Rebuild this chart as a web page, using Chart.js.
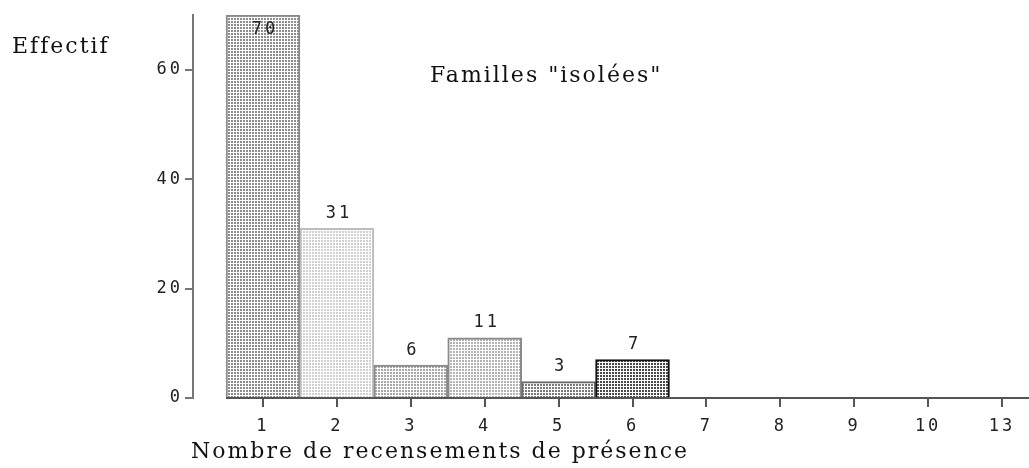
<!DOCTYPE html>
<html>
<head>
<meta charset="utf-8">
<script src="https://cdn.jsdelivr.net/npm/chart.js@4"></script>
<style>
  html, body { margin: 0; padding: 0; background: #fff; overflow: hidden; }
  #wrap { width: 1029px; height: 468px; }
</style>
</head>
<body>
<div id="wrap"><canvas id="c"></canvas></div>
<script>
// recensements de présence (1..10, 13) et effectifs
var categories = ['1', '2', '3', '4', '5', '6', '7', '8', '9', '10', '13'];
var effectifs = [70, 31, 6, 11, 3, 7, 0, 0, 0, 0, 0];
var yTicks = [0, 20, 40, 60];

var serif = '"DejaVu Serif", serif';
var mono = '"DejaVu Sans Mono", monospace';

// petit motif de points pour remplir les barres
function dots(color) {
    var c = document.createElement('canvas');
    c.width = 3; c.height = 3;
    var g = c.getContext('2d');
    g.fillStyle = '#fff';
    g.fillRect(0, 0, 3, 3);
    g.fillStyle = color;
    g.fillRect(0, 0, 2, 2);
    return g.createPattern(c, 'repeat');
}

var fills = [dots('#8e8e8e'), dots('#d2d2d2'), dots('#a8a8a8'), dots('#b4b4b4'), dots('#7a7a7a'), dots('#4a4a4a')];
var borders = ['#8a8a8a', '#bdbdbd', '#8a8a8a', '#8a8a8a', '#6a6a6a', '#111'];

var points = categories.map(function(c, i) { return { x: i + 1, y: effectifs[i] }; });

var textPlugin = {
    id: 'textes',
    beforeDraw: function(chart) {
        // chiffres des axes un peu espacés
        chart.ctx.letterSpacing = '3px';
    },
    afterDraw: function(chart) {
        var ctx = chart.ctx;
        var area = chart.chartArea;
        var x = chart.scales.x;
        var y0 = Math.round(area.bottom);
        ctx.save();
        ctx.letterSpacing = '0px';
        ctx.globalAlpha = 1;
        ctx.globalCompositeOperation = 'source-over';
        // axe horizontal et graduations au centre de chaque classe
        ctx.fillStyle = '#555';
        var left = Math.round(x.getPixelForValue(0.5));
        ctx.fillRect(left, y0 - 1, area.right - left, 2);
        for (var i = 0; i < categories.length; i++) {
            var px = Math.round(area.left + (i + 1 - x.min) / (x.max - x.min) * (area.right - area.left));
            ctx.fillRect(px - 1, y0 + 1, 2, 8);
        }

        // valeurs au-dessus des barres
        ctx.fillStyle = '#222';
        ctx.font = '17px ' + mono;
        ctx.textAlign = 'center';
        ctx.textBaseline = 'middle';
        ctx.letterSpacing = '3px';
        chart.getDatasetMeta(0).data.forEach(function(bar, i) {
            var v = effectifs[i];
            if (!v) return;
            var y = bar.y - 15;
            if (y < area.top + 6) y = bar.y + 15;
            ctx.fillText(String(v), bar.x + 2, y);
        });

        // titres
        ctx.font = '22px ' + serif;
        ctx.letterSpacing = '2px';
        ctx.textAlign = 'left';
        ctx.fillStyle = '#111';
        ctx.fillText('Effectif', 12, 47);
        ctx.fillText('Familles "isolées"', 430, 76);
        ctx.fillText('Nombre de recensements de présence', 191, 452);
        ctx.restore();
    }
};

new Chart(document.getElementById('c'), {
    type: 'bar',
    data: {
        datasets: [{
            data: points,
            backgroundColor: fills,
            borderColor: borders,
            borderWidth: function(context) {
                return context.raw && context.raw.y ? 2 : 0;
            },
            borderSkipped: 'bottom',
            barPercentage: 1,
            categoryPercentage: 1
        }]
    },
    options: {
        responsive: true,
        maintainAspectRatio: false,
        animation: false,
        layout: { padding: { top: 15, left: 0, right: 0, bottom: 0 } },
        plugins: {
            legend: { display: false },
            tooltip: { enabled: false }
        },
        scales: {
            x: {
                type: 'linear',
                offset: false,
                min: 0.053,
                max: 11.365,
                border: { display: false },
                grid: { display: false },
                afterBuildTicks: function(scale) {
                    scale.ticks = categories.map(function(c, i) { return { value: i + 1 }; });
                },
                afterFit: function(scale) { scale.height = 70; },
                ticks: {
                    font: { family: mono, size: 17 },
                    color: '#222',
                    padding: 10,
                    maxRotation: 0,
                    autoSkip: false,
                    callback: function(value) { return categories[value - 1]; }
                }
            },
            y: {
                min: 0,
                max: 70,
                border: { display: true, color: '#777', width: 2 },
                grid: { drawOnChartArea: false, tickLength: 8, color: '#777', lineWidth: 2 },
                afterBuildTicks: function(scale) {
                    scale.ticks = yTicks.map(function(v) { return { value: v }; });
                },
                afterFit: function(scale) { scale.width = 193; },
                ticks: {
                    font: { family: mono, size: 17 },
                    color: '#222',
                    padding: 2
                }
            }
        }
    },
    plugins: [textPlugin]
});
</script>
</body>
</html>
